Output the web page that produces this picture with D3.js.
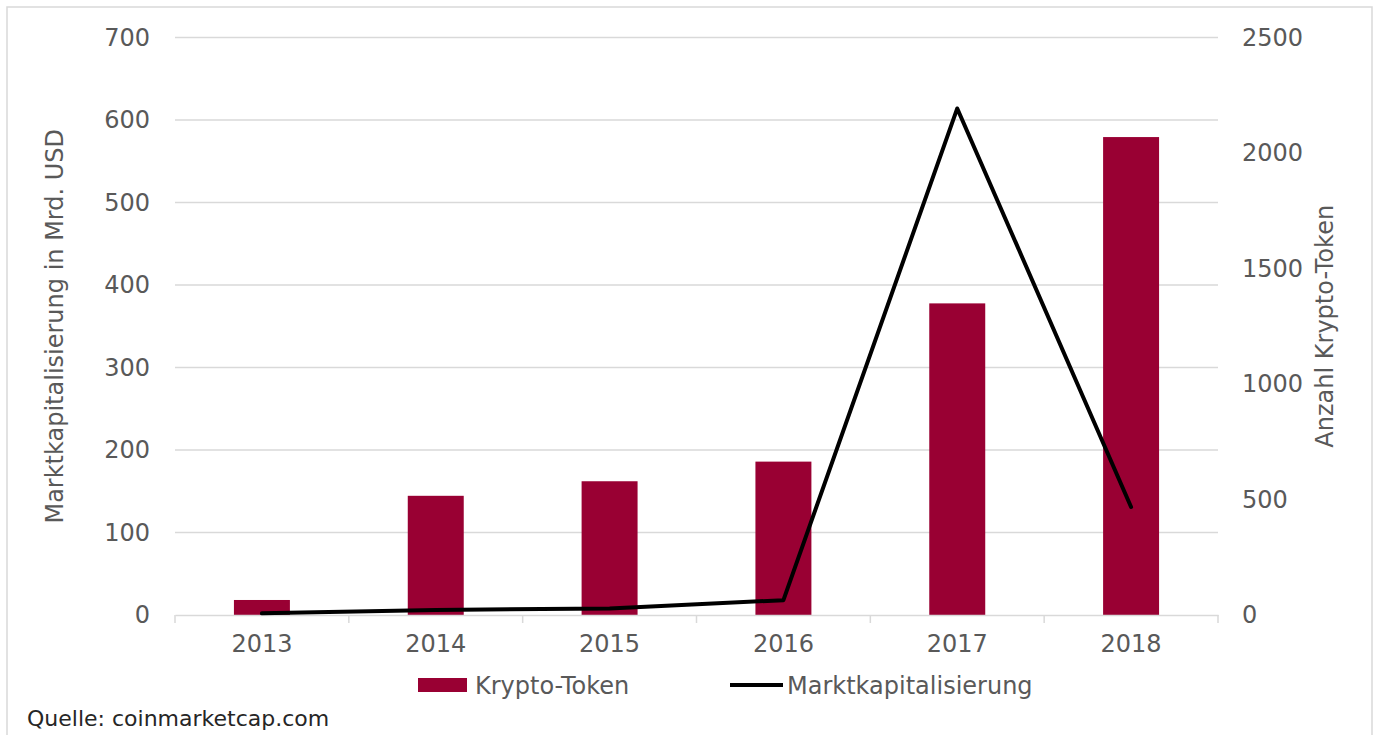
<!DOCTYPE html>
<html>
<head>
<meta charset="utf-8">
<script src="https://cdn.jsdelivr.net/npm/d3@7/dist/d3.min.js"></script>
<style>
  html, body { margin: 0; padding: 0; background: #fff; }
  svg { display: block; }
  text { font-family: "DejaVu Sans", Verdana, sans-serif; }
</style>
</head>
<body>
<svg id="chart" width="1377" height="735"></svg>
<script>
// ---- data ----
const years = ["2013", "2014", "2015", "2016", "2017", "2018"];
const tokenCounts = [65, 516, 579, 664, 1349, 2069];      // Krypto-Token (right axis)
const marketCap = [2, 6, 8, 18, 614, 131];                 // Marktkapitalisierung, Mrd. USD (left axis)
const leftTicks = [0, 100, 200, 300, 400, 500, 600, 700];
const rightTicks = [0, 500, 1000, 1500, 2000, 2500];

const svg = d3.select("#chart");
const plot = { left: 175, right: 1218, top: 37.5, bottom: 615 };

// frame
svg.append("rect").attr("x", 7).attr("y", 7).attr("width", 1365).attr("height", 740)
  .attr("fill", "#fff").attr("stroke", "#d9d9d9").attr("stroke-width", 1.5);

const x = d3.scaleBand().domain(years).range([plot.left, plot.right]).padding(0);
const yL = d3.scaleLinear().domain([0, 700]).range([plot.bottom, plot.top]);
const yR = d3.scaleLinear().domain([0, 2500]).range([plot.bottom, plot.top]);

// gridlines
svg.append("g").selectAll("line").data(leftTicks.filter(d => d > 0)).join("line")
  .attr("x1", plot.left).attr("x2", plot.right)
  .attr("y1", d => yL(d)).attr("y2", d => yL(d))
  .attr("stroke", "#d9d9d9").attr("stroke-width", 1.5);

// left axis labels
const gL = svg.append("g").attr("transform", `translate(${plot.left},0)`)
  .call(d3.axisLeft(yL).tickValues(leftTicks).tickFormat(d3.format("d")).tickSize(0).tickPadding(25));
gL.select(".domain").remove();
gL.selectAll("text").attr("font-size", 24).attr("fill", "#595959")
  .attr("font-family", "DejaVu Sans, Verdana, sans-serif");

// right axis labels
const gR = svg.append("g").attr("transform", `translate(${plot.right},0)`)
  .call(d3.axisRight(yR).tickValues(rightTicks).tickFormat(d3.format("d")).tickSize(0).tickPadding(24));
gR.select(".domain").remove();
gR.selectAll("text").attr("font-size", 24).attr("fill", "#595959")
  .attr("font-family", "DejaVu Sans, Verdana, sans-serif");

// bars
const barW = x.bandwidth() * 0.322;
svg.append("g").selectAll("rect").data(years).join("rect")
  .attr("x", (d) => x(d) + x.bandwidth() / 2 - barW / 2)
  .attr("width", barW)
  .attr("y", (d, i) => yR(tokenCounts[i]))
  .attr("height", (d, i) => yR(0) - yR(tokenCounts[i]))
  .attr("fill", "#990033");

// x axis
const gX = svg.append("g").attr("transform", `translate(0,${plot.bottom})`)
  .call(d3.axisBottom(x).tickSize(0).tickPadding(20));
gX.select(".domain").attr("stroke", "#d9d9d9").attr("stroke-width", 1.5);
gX.selectAll("text").attr("font-size", 24).attr("fill", "#595959")
  .attr("font-family", "DejaVu Sans, Verdana, sans-serif");
const boundaries = years.map(d => x(d)).concat([x.range()[1]]);
gX.selectAll(".bnd").data(boundaries).join("line").attr("class", "bnd")
  .attr("x1", d => d).attr("x2", d => d).attr("y1", 0).attr("y2", 8)
  .attr("stroke", "#d9d9d9").attr("stroke-width", 1.5);

// line
const line = d3.line()
  .x((d, i) => x(years[i]) + x.bandwidth() / 2)
  .y(d => yL(d));
svg.append("path").datum(marketCap).attr("d", line)
  .attr("fill", "none").attr("stroke", "#000").attr("stroke-width", 4)
  .attr("stroke-linejoin", "round").attr("stroke-linecap", "round");

// axis titles
svg.append("text").attr("transform", `translate(63,${(plot.top + plot.bottom) / 2}) rotate(-90)`)
  .attr("text-anchor", "middle").attr("font-size", 24).attr("fill", "#595959")
  .text("Marktkapitalisierung in Mrd. USD");
svg.append("text").attr("transform", `translate(1333,${(plot.top + plot.bottom) / 2}) rotate(-90)`)
  .attr("text-anchor", "middle").attr("font-size", 24).attr("fill", "#595959")
  .text("Anzahl Krypto-Token");

// legend
const lg = svg.append("g");
lg.append("rect").attr("x", 418).attr("y", 678).attr("width", 49).attr("height", 14).attr("fill", "#990033");
lg.append("text").attr("x", 475).attr("y", 686).attr("dy", "0.35em").attr("font-size", 24)
  .attr("fill", "#595959").text("Krypto-Token");
lg.append("line").attr("x1", 730).attr("x2", 783).attr("y1", 685).attr("y2", 685)
  .attr("stroke", "#000").attr("stroke-width", 4);
lg.append("text").attr("x", 787).attr("y", 686).attr("dy", "0.35em").attr("font-size", 24)
  .attr("fill", "#595959").text("Marktkapitalisierung");

// source
svg.append("text").attr("x", 27).attr("y", 726).attr("font-size", 22).attr("fill", "#262626")
  .text("Quelle: coinmarketcap.com");
</script>
</body>
</html>
